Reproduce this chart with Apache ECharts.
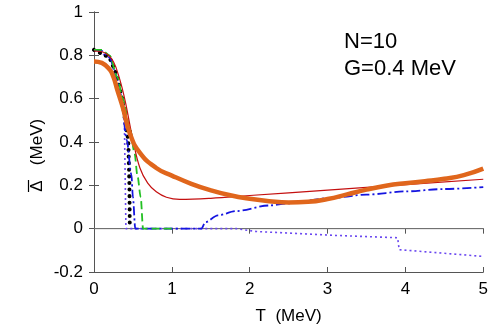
<!DOCTYPE html>
<html>
<head>
<meta charset="utf-8">
<script src="https://cdn.jsdelivr.net/npm/echarts@6/dist/echarts.min.js"></script>
<style>
  html, body { margin: 0; padding: 0; background: #fff; }
  #chart { width: 491px; height: 331px; }
</style>
</head>
<body>
<div id="chart"></div>
<script>
// temperature (MeV) and gap (MeV)
const orangeT = [0, 0.1, 0.2, 0.25, 0.3, 0.37, 0.46, 0.59, 0.8, 1.0, 1.25, 1.5, 1.75, 2.0, 2.25, 2.5, 2.75, 3.0, 3.25, 3.5, 3.75, 4.0, 4.25, 4.5, 4.75, 5.0];
const orangeV = [0.772, 0.765, 0.735, 0.7, 0.64, 0.56, 0.44, 0.35, 0.28, 0.245, 0.207, 0.177, 0.154, 0.138, 0.127, 0.121, 0.124, 0.137, 0.158, 0.18, 0.198, 0.21, 0.219, 0.23, 0.247, 0.277];

const redT = [0, 0.15, 0.25, 0.33, 0.4, 0.5, 0.59, 0.69, 0.8, 0.93, 1.1, 1.5, 2, 3, 4, 5];
const redV = [0.82, 0.81, 0.77, 0.69, 0.59, 0.41, 0.28, 0.21, 0.17, 0.145, 0.135, 0.14, 0.153, 0.178, 0.203, 0.228];

const greenT = [0, 0.1, 0.2, 0.3, 0.37, 0.46, 0.52, 0.56, 0.6, 0.63, 1.0];
const greenV = [0.825, 0.825, 0.8, 0.7, 0.6, 0.47, 0.35, 0.24, 0.145, 0, 0];

const blueT = [0, 0.1, 0.2, 0.3, 0.36, 0.42, 0.48, 0.5, 0.53, 1.38, 1.43, 1.59, 1.82, 2.25, 2.5, 3, 3.5, 4, 4.5, 5];
const blueV = [0.825, 0.82, 0.79, 0.68, 0.56, 0.41, 0.25, 0.145, 0, 0, 0.03, 0.061, 0.081, 0.107, 0.117, 0.14, 0.157, 0.172, 0.183, 0.192];

const blackT = [0, 0.2, 0.3, 0.36, 0.4, 0.44, 0.455, 0.46];
const blackV = [0.825, 0.79, 0.7, 0.6, 0.5, 0.41, 0.2, 0];

const purpleT = [0, 0.2, 0.3, 0.36, 0.39, 0.4, 0.41, 1.83, 2.08, 3.1, 3.9, 3.92, 5];
const purpleV = [0.825, 0.79, 0.7, 0.6, 0.49, 0.25, 0, 0, -0.013, -0.031, -0.042, -0.097, -0.128];

const xTicks = [0, 1, 2, 3, 4, 5];
const yTicks = [-0.2, 0, 0.2, 0.4, 0.6, 0.8, 1];

function pairs(t, v) {
  return t.map((x, i) => [x, v[i]]);
}

const font = "Liberation Sans, Arial, sans-serif";
const axisColor = "#555";

const chart = echarts.init(document.getElementById("chart"));

const sideAxis = {
  axisLine: { show: true, lineStyle: { color: axisColor, width: 1 } },
  axisTick: { show: true, inside: true, length: 5, lineStyle: { color: axisColor } },
  axisLabel: { show: false },
  splitLine: { show: false },
};

const option = {
  animation: false,
  backgroundColor: "#fff",
  grid: { left: 94, right: 6, top: 12, bottom: 59 },
  xAxis: [
    {
      type: "value",
      min: xTicks[0],
      max: xTicks[xTicks.length - 1],
      interval: 1,
      position: "bottom",
      name: "T  (MeV)",
      nameLocation: "middle",
      nameGap: 36,
      nameTextStyle: { fontFamily: font, fontSize: 17, color: "#000" },
      axisLine: { show: true, onZero: false, lineStyle: { color: axisColor, width: 1 } },
      axisTick: { show: true, inside: true, length: 5, lineStyle: { color: axisColor } },
      axisLabel: { fontFamily: font, fontSize: 17, color: "#000", margin: 9 },
      splitLine: { show: false },
    },
    Object.assign({ type: "value", min: 0, max: 5, interval: 1, position: "top" }, sideAxis),
  ],
  yAxis: [
    {
      type: "value",
      min: yTicks[0],
      max: yTicks[yTicks.length - 1],
      interval: 0.2,
      position: "left",
      axisLine: { show: true, onZero: false, lineStyle: { color: axisColor, width: 1 } },
      axisTick: { show: true, inside: true, length: 5, lineStyle: { color: axisColor } },
      axisLabel: {
        fontFamily: font, fontSize: 17, color: "#000", margin: 11,
        formatter: (v) => String(parseFloat(v.toFixed(1))),
      },
      splitLine: { show: false },
    },
    Object.assign({ type: "value", min: -0.2, max: 1, interval: 0.2, position: "right" }, sideAxis),
  ],
  graphic: [
    // y axis title: Delta with a bar over it, then the unit
    {
      type: "text", x: 37, y: 186, rotation: Math.PI / 2,
      style: { text: "\u0394", font: "17px " + font, fill: "#000", align: "center", verticalAlign: "middle" },
    },
    {
      type: "line", shape: { x1: 28.5, y1: 180, x2: 28.5, y2: 192 },
      style: { stroke: "#000", lineWidth: 1.2 },
    },
    {
      type: "text", x: 37, y: 142, rotation: Math.PI / 2,
      style: { text: "(MeV)", font: "17px " + font, fill: "#000", align: "center", verticalAlign: "middle" },
    },
    {
      type: "text", left: 344, top: 31,
      style: { text: "N=10", font: "22px " + font, fill: "#000" },
    },
    {
      type: "text", left: 344, top: 58,
      style: { text: "G=0.4 MeV", font: "22px " + font, fill: "#000" },
    },
  ],
  series: [
    {
      type: "line", name: "zero", data: pairs([0, 5], [0, 0]),
      showSymbol: false, silent: true, z: 1,
      lineStyle: { color: "#777", width: 1 },
    },
    {
      type: "line", name: "purple", data: pairs(purpleT, purpleV),
      showSymbol: false, z: 3,
      lineStyle: { color: "#6a48f0", width: 1.6, type: [2, 3] },
    },
    {
      type: "line", name: "black", data: pairs(blackT, blackV),
      showSymbol: false, z: 4,
      lineStyle: { color: "#000", width: 4, type: [0.1, 6.5], cap: "round" },
    },
    {
      type: "line", name: "blue", data: pairs(blueT, blueV),
      showSymbol: false, z: 5, smooth: 0.3, smoothMonotone: "x",
      lineStyle: { color: "#1515e0", width: 1.8, type: [9, 3, 2, 3] },
    },
    {
      type: "line", name: "green", data: pairs(greenT, greenV),
      showSymbol: false, z: 5, smooth: 0.3, smoothMonotone: "x",
      lineStyle: { color: "#22c022", width: 1.8, type: [8, 4] },
    },
    {
      type: "line", name: "red", data: pairs(redT, redV),
      showSymbol: false, z: 6, smooth: 0.4,
      lineStyle: { color: "#c41010", width: 1.2 },
    },
    {
      type: "line", name: "orange", data: pairs(orangeT, orangeV),
      showSymbol: false, z: 7, smooth: 0.5,
      lineStyle: { color: "#e0661c", width: 4.5, join: "round" },
    },
  ],
};

chart.setOption(option);
</script>
</body>
</html>
